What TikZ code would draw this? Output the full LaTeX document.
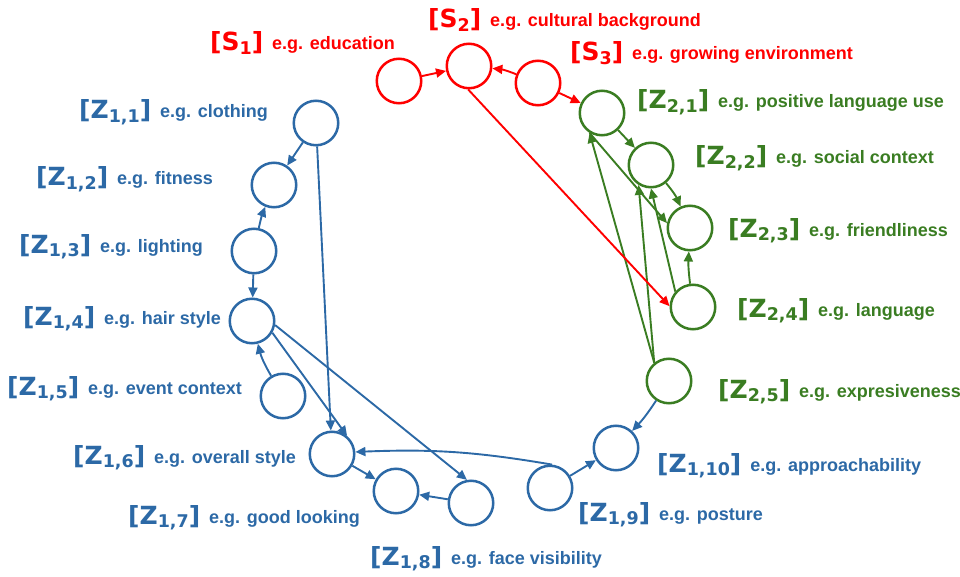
\documentclass[tikz,border=0pt]{standalone}
\usepackage{fontspec}
\setmainfont{Liberation Sans}
\newfontfamily\bigf{DejaVu Sans}
\usetikzlibrary{arrows.meta}
\definecolor{cred}{RGB}{255,0,0}
\definecolor{cblue}{RGB}{44,105,166}
\definecolor{cgreen}{RGB}{58,125,34}
\newcommand{\lbl}[3]{{\bigf\bfseries\fontsize{25}{25}\selectfont [#1\raisebox{-3.5pt}{\fontsize{17.5}{17.5}\selectfont #2}]}\hspace{9pt}\raisebox{1pt}{\bfseries\fontsize{18}{18}\selectfont #3}}
\tikzset{
  var/.style={circle, draw, line width=2.5pt, minimum size=44.5pt, inner sep=0pt},
  lab/.style={anchor=base west, inner sep=0pt},
  arr/.style={-{Triangle[length=10pt,width=9pt]}, line width=1.9pt},
}
\begin{document}
\begin{tikzpicture}[x=1pt,y=-1pt]
\useasboundingbox (0,0) rectangle (960,577);
% red nodes
\begin{scope}[every node/.append style={draw=cred, text=cred}]
\node[var] (S1) at (399,81) {};
\node[var] (S2) at (469,66) {};
\node[var] (S3) at (538,83) {};
\end{scope}
\begin{scope}[every node/.append style={text=cred}]
\node[lab] (LS1) at (210,51) {\lbl{S}{1}{e.g. education}};
\node[lab] (LS2) at (428,28) {\lbl{S}{2}{e.g. cultural background}};
\node[lab] (LS3) at (570,61) {\lbl{S}{3}{e.g. growing environment}};
\end{scope}
% green nodes
\begin{scope}[every node/.append style={draw=cgreen}]
\node[var] (Z21) at (602,113) {};
\node[var] (Z22) at (651,165) {};
\node[var] (Z23) at (690,228) {};
\node[var] (Z24) at (693,307) {};
\node[var] (Z25) at (669,381) {};
\end{scope}
\begin{scope}[every node/.append style={text=cgreen}]
\node[lab] (LZ21) at (637,109) {\lbl{Z}{2,1}{e.g. positive language use}};
\node[lab] (LZ22) at (695,165) {\lbl{Z}{2,2}{e.g. social context}};
\node[lab] (LZ23) at (728,237) {\lbl{Z}{2,3}{e.g. friendliness}};
\node[lab] (LZ24) at (737,317) {\lbl{Z}{2,4}{e.g. language}};
\node[lab] (LZ25) at (718,398) {\lbl{Z}{2,5}{e.g. expresiveness}};
\end{scope}
% blue nodes
\begin{scope}[every node/.append style={draw=cblue}]
\node[var] (Z11) at (316,123) {};
\node[var] (Z12) at (274,185) {};
\node[var] (Z13) at (254,251) {};
\node[var] (Z14) at (252,321) {};
\node[var] (Z15) at (283,396) {};
\node[var] (Z16) at (332,454) {};
\node[var] (Z17) at (396,491) {};
\node[var] (Z18) at (471,503) {};
\node[var] (Z19) at (550,488) {};
\node[var] (Z110) at (616,448) {};
\end{scope}
\begin{scope}[every node/.append style={text=cblue}]
\node[lab] (LZ11) at (79,119) {\lbl{Z}{1,1}{e.g. clothing}};
\node[lab] (LZ12) at (36,186) {\lbl{Z}{1,2}{e.g. fitness}};
\node[lab] (LZ13) at (19,253) {\lbl{Z}{1,3}{e.g. lighting}};
\node[lab] (LZ14) at (23,325) {\lbl{Z}{1,4}{e.g. hair style}};
\node[lab] (LZ15) at (7,395) {\lbl{Z}{1,5}{e.g. event context}};
\node[lab] (LZ16) at (73,464) {\lbl{Z}{1,6}{e.g. overall style}};
\node[lab] (LZ17) at (128,524) {\lbl{Z}{1,7}{e.g. good looking}};
\node[lab] (LZ18) at (370,565) {\lbl{Z}{1,8}{e.g. face visibility}};
\node[lab] (LZ19) at (578,521) {\lbl{Z}{1,9}{e.g. posture}};
\node[lab] (LZ110) at (657,472) {\lbl{Z}{1,10}{e.g. approachability}};
\end{scope}
% blue edges
\begin{scope}[cblue]
\draw[arr] (Z11) -- (Z12);
\draw[arr] (Z13) to[bend left=5] (Z12);
\draw[arr] (Z13) -- (Z14);
\draw[arr] (Z15) to[bend left=8] (Z14);
\draw[arr] (Z11) -- (Z16);
\draw[arr] (Z14.-30) -- (Z16.50);
\draw[arr] (Z14.-10) -- (Z18.100);
\draw[arr] (Z16) -- (Z17);
\draw[arr] (Z18) -- (Z17);
\draw[arr] (Z19.85) to[bend right=6] (Z16.5);
\draw[arr] (Z19) -- (Z110);
\draw[arr] (Z25) to[bend left=5] (Z110);
\end{scope}
% green edges
\begin{scope}[cgreen]
\draw[arr] (Z21) -- (Z22);
\draw[arr] (Z22) to[bend left=8] (Z23);
\draw[arr] (Z24) to[bend left=5] (Z23);
\draw[arr] (Z21.238) -- (Z23.168);
\draw[arr] (Z25.129) -- (Z21.238);
\draw[arr] (Z25.129) -- (Z22.238);
\draw[arr] (Z24.139) -- (Z22.270);
\end{scope}
% red edges
\begin{scope}[cred]
\draw[arr] (S1) -- (S2);
\draw[arr] (S3) to[bend right=8] (S2);
\draw[arr] (S3) -- (Z21);
\draw[arr] (S2.268) -- (Z24.178);
\end{scope}
\end{tikzpicture}
\end{document}
